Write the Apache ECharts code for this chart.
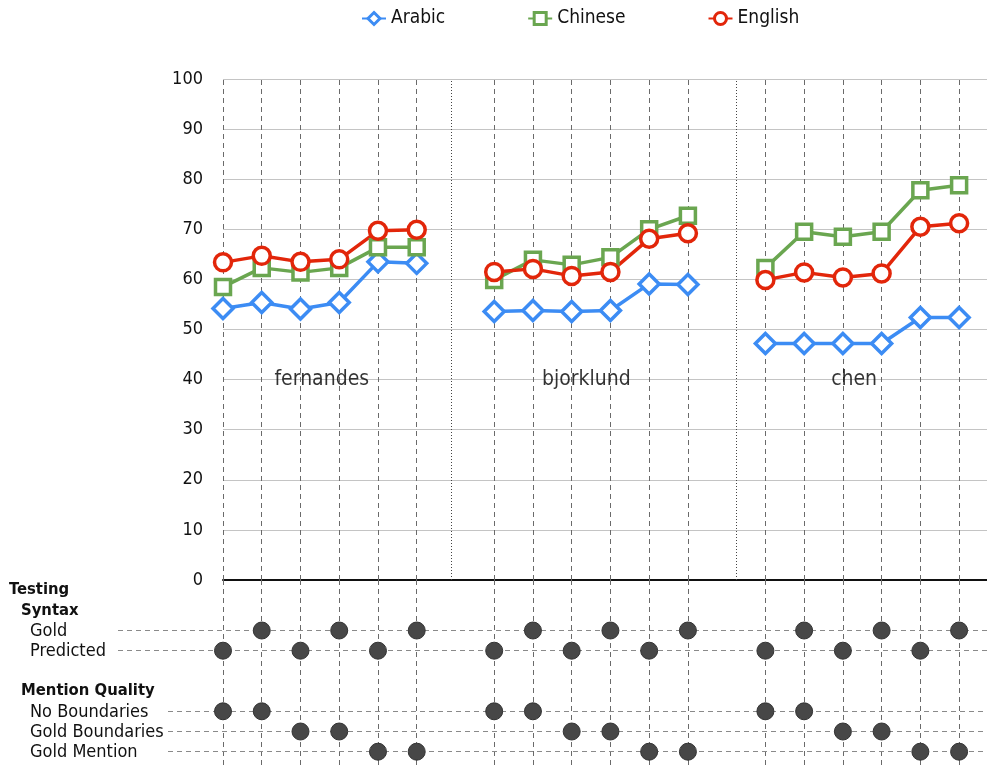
<!DOCTYPE html>
<html>
<head>
<meta charset="utf-8">
<script src="https://cdn.jsdelivr.net/npm/echarts@6/dist/echarts.min.js"></script>
<style>
  html, body { margin: 0; padding: 0; background: #fff; }
  #chart { width: 987px; height: 765px; }
</style>
</head>
<body>
<div id="chart"></div>
<script>
// Corpora (each holds six system configurations)
const groups = ['fernandes', 'bjorklund', 'chen'];

// Scores per configuration, groups in order
const arabic  = [54.2, 55.4, 54.1, 55.4, 63.5, 63.2,  53.6, 53.8, 53.6, 53.8, 59.1, 59.0,  47.2, 47.2, 47.2, 47.2, 52.4, 52.4];
const chinese = [58.5, 62.3, 61.4, 62.3, 66.4, 66.4,  59.9, 63.9, 62.9, 64.4, 70.0, 72.7,  62.3, 69.5, 68.5, 69.5, 77.8, 78.8];
const english = [63.4, 64.7, 63.5, 64.0, 69.7, 69.9,  61.5, 62.1, 60.7, 61.5, 68.1, 69.2,  59.9, 61.4, 60.4, 61.2, 70.5, 71.2];

// Testing configuration of each column within a group
const syntax  = ['Predicted', 'Gold', 'Predicted', 'Gold', 'Predicted', 'Gold'];
const mention = ['No Boundaries', 'No Boundaries', 'Gold Boundaries', 'Gold Boundaries', 'Gold Mention', 'Gold Mention'];

// Rows of the configuration matrix below the plot
const matrixRows = [
  { key: 'Testing', kind: 'h1' },
  { key: 'Syntax', kind: 'h2' },
  { key: 'Gold', kind: 'item', part: 'syntax' },
  { key: 'Predicted', kind: 'item', part: 'syntax' },
  { key: '', kind: 'blank' },
  { key: 'Mention Quality', kind: 'h2' },
  { key: 'No Boundaries', kind: 'item', part: 'mention' },
  { key: 'Gold Boundaries', kind: 'item', part: 'mention' },
  { key: 'Gold Mention', kind: 'item', part: 'mention' },
  { key: '', kind: 'blank' }
];

const yTicks = { min: 0, max: 100, interval: 10 };

// Layout
const FONT = '"DejaVu Sans Condensed", "DejaVu Sans"';
const perGroup = 6, groupStride = 7;
const xMax = 19.72;
const plotLeft = 223;
const unit = (987 - plotLeft) / xMax;
const matrixLeft = 110;
const rowH = 20.2;
const xMinMatrix = -(plotLeft - matrixLeft) / unit;
const pxToMatrixX = px => xMinMatrix + (px - matrixLeft) / unit;

const colX = [];
groups.forEach((g, gi) => { for (let j = 0; j < perGroup; j++) colX.push(gi * groupStride + j); });

function seriesData(vals) {
  const out = [];
  groups.forEach((g, gi) => {
    if (gi > 0) out.push([gi * groupStride - 1, '-']);
    for (let j = 0; j < perGroup; j++) {
      const k = gi * perGroup + j;
      out.push([colX[k], vals[k]]);
    }
  });
  return out;
}

const rowIndex = name => matrixRows.findIndex(r => r.key === name && r.kind === 'item');

const dots = [];
groups.forEach((g, gi) => {
  for (let j = 0; j < perGroup; j++) {
    const x = gi * groupStride + j;
    dots.push([x, rowIndex(syntax[j])]);
    dots.push([x, rowIndex(mention[j])]);
  }
});

const vDash = { color: '#6a6a6a', width: 1, type: [5, 4] };
const colLines = colX.map(x => ({ xAxis: x }));

const rowLines = matrixRows.map((r, i) => ({ r, i })).filter(o => o.r.kind === 'item').map(o => {
  const start = o.r.part === 'syntax' ? pxToMatrixX(118) : pxToMatrixX(168);
  return [
    { coord: [start, o.i], lineStyle: { color: '#8a8a8a', width: 1, type: [5, 4] } },
    { coord: [xMax, o.i] }
  ];
});

const groupLabelX = [2.55, 9.38, 16.29];

const lineSeries = (name, vals, color, symbol, size) => ({
  name, type: 'line', xAxisIndex: 0, yAxisIndex: 0,
  data: seriesData(vals),
  connectNulls: false,
  symbol, symbolSize: size, showAllSymbol: true,
  lineStyle: { color, width: 3.5 },
  itemStyle: { color: '#fff', borderColor: color, borderWidth: 3.5 },
  emphasis: { disabled: true },
  z: 5
});

const chart = echarts.init(document.getElementById('chart'), null, { renderer: 'canvas' });
chart.setOption({
  animation: false,
  backgroundColor: '#fff',
  textStyle: { fontFamily: FONT, color: '#111' },
  legend: {
    data: ['Arabic', 'Chinese', 'English'],
    left: 356, top: 4,
    itemWidth: 24, itemHeight: 15, itemGap: 82,
    itemStyle: { borderWidth: 3 },
    textStyle: { fontFamily: FONT, fontSize: 19, color: '#111' }
  },
  grid: [
    { left: plotLeft, right: 0, top: 79, bottom: 185, outerBoundsMode: 'none' },
    { left: matrixLeft, right: 0, top: 580, height: rowH * matrixRows.length, outerBoundsMode: 'none' }
  ],
  xAxis: [
    {
      type: 'value', gridIndex: 0, min: 0, max: xMax,
      axisLine: { show: true, lineStyle: { color: '#111', width: 2 } },
      axisTick: { show: false }, axisLabel: { show: false }, splitLine: { show: false }
    },
    {
      type: 'value', gridIndex: 1, min: xMinMatrix, max: xMax,
      axisLine: { show: false }, axisTick: { show: false }, axisLabel: { show: false }, splitLine: { show: false }
    }
  ],
  yAxis: [
    {
      type: 'value', gridIndex: 0, min: yTicks.min, max: yTicks.max, interval: yTicks.interval,
      axisLine: { show: false }, axisTick: { show: false },
      axisLabel: { fontFamily: FONT, fontSize: 18, color: '#111', margin: 20 },
      splitLine: { show: true, lineStyle: { color: '#c4c4c4', width: 1 } }
    },
    {
      type: 'category', gridIndex: 1, inverse: true,
      data: matrixRows.map((r, i) => String(i)),
      axisLine: { show: false }, axisTick: { show: false }, splitLine: { show: false },
      axisLabel: {
        align: 'left', margin: matrixLeft - 9, interval: 0,
        formatter: v => {
          const r = matrixRows[+v];
          if (!r || r.kind === 'blank') return '';
          return '{' + r.kind + '|' + r.key + '}';
        },
        rich: {
          h1: { fontFamily: FONT, fontSize: 16.5, fontWeight: 'bold', color: '#111' },
          h2: { fontFamily: FONT, fontSize: 16.5, fontWeight: 'bold', color: '#111', padding: [0, 0, 0, 12] },
          item: { fontFamily: FONT, fontSize: 18, color: '#111', padding: [2, 0, 0, 21] }
        }
      }
    }
  ],
  series: [
    // column guides and group separators in the plot
    {
      type: 'line', xAxisIndex: 0, yAxisIndex: 0, data: [], silent: true,
      markLine: {
        silent: true, symbol: ['none', 'none'], label: { show: false },
        lineStyle: vDash,
        data: colLines.concat([
          { xAxis: 5.88, lineStyle: { color: '#444', width: 1, type: [1, 2] } },
          { xAxis: 13.24, lineStyle: { color: '#444', width: 1, type: [1, 2] } }
        ])
      },
      z: 1
    },
    lineSeries('Arabic', arabic, '#3c8cf4', 'diamond', [20, 20]),
    lineSeries('Chinese', chinese, '#6aa650', 'rect', 15),
    lineSeries('English', english, '#e2260a', 'circle', 17),
    // group names
    {
      type: 'scatter', xAxisIndex: 0, yAxisIndex: 0, symbolSize: 0, silent: true,
      data: groups.map((g, i) => ({ name: g, value: [groupLabelX[i], 40] })),
      label: { show: true, position: 'inside', formatter: p => p.name, fontFamily: FONT, fontSize: 21, color: '#000' },
      z: 6
    },
    // configuration matrix
    {
      type: 'scatter', xAxisIndex: 1, yAxisIndex: 1,
      data: dots, symbolSize: 17, silent: true,
      itemStyle: { color: '#474747', borderColor: '#333', borderWidth: 1, opacity: 1 },
      markLine: {
        silent: true, symbol: ['none', 'none'], label: { show: false },
        lineStyle: vDash,
        data: colLines.concat(rowLines)
      },
      z: 5
    }
  ]
});
</script>
</body>
</html>
